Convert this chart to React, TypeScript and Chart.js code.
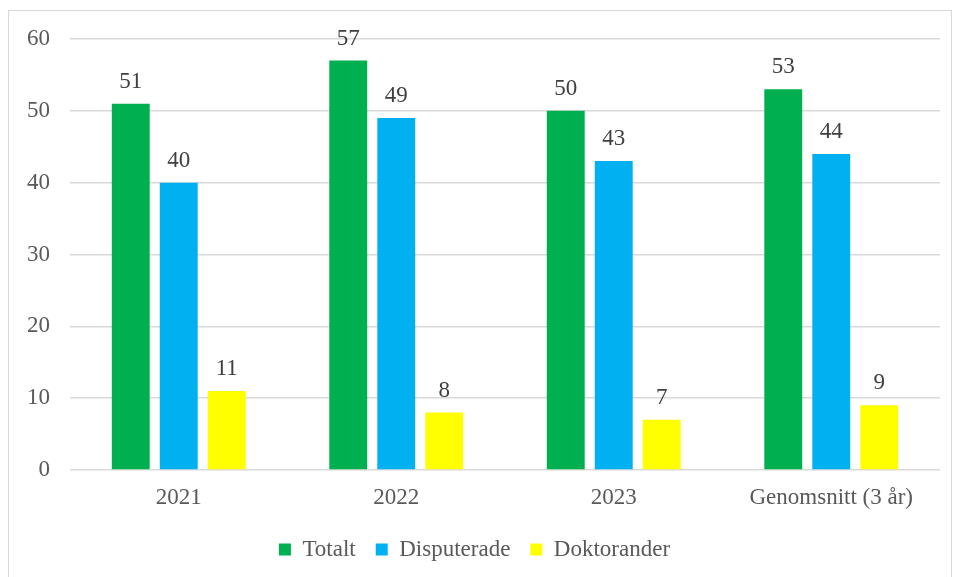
import React, { useEffect, useRef } from "react";
import { Chart, registerables } from "chart.js";

Chart.register(...registerables);

const categories = ["2021", "2022", "2023", "Genomsnitt (3 år)"];
const totalt = [51, 57, 50, 53];
const disputerade = [40, 49, 43, 44];
const doktorander = [11, 8, 7, 9];
const yTicks = [0, 10, 20, 30, 40, 50, 60];

const FONT = "'Liberation Serif', 'Times New Roman', serif";

const valueLabels = {
  id: "valueLabels",
  afterDatasetsDraw(chart: any) {
    const ctx = chart.ctx;
    ctx.save();
    ctx.font = `23px ${FONT}`;
    ctx.fillStyle = "#404040";
    ctx.textAlign = "center";
    ctx.textBaseline = "alphabetic";
    chart.data.datasets.forEach((ds: any, i: number) => {
      const meta = chart.getDatasetMeta(i);
      meta.data.forEach((bar: any, j: number) => {
        ctx.fillText(String(ds.data[j]), bar.x, bar.y - 16);
      });
    });
    ctx.restore();
  },
};

export default function App() {
  const ref = useRef<HTMLCanvasElement>(null);
  useEffect(() => {
    if (!ref.current) return;
    const chart = new Chart(ref.current, {
      type: "bar",
      data: {
        labels: categories,
        datasets: [
          { label: "Totalt", data: totalt, backgroundColor: "#00B050" },
          { label: "Disputerade", data: disputerade, backgroundColor: "#00B0F0" },
          { label: "Doktorander", data: doktorander, backgroundColor: "#FFFF00" },
        ],
      },
      options: {
        responsive: false,
        animation: false,
        devicePixelRatio: 1,
        layout: { padding: { left: 0, right: 11, top: 28, bottom: 10 } },
        datasets: {
          bar: { categoryPercentage: 0.662, barPercentage: 0.79 },
        },
        plugins: {
          tooltip: { enabled: false },
          legend: {
            position: "bottom",
            labels: {
              font: { family: FONT, size: 23 },
              color: "#595959",
              boxWidth: 12,
              boxHeight: 12,
              padding: 20,
            },
          },
        },
        scales: {
          x: {
            grid: { display: false },
            border: { display: false },
            ticks: {
              font: { family: FONT, size: 23 },
              color: "#595959",
              padding: 6,
              maxRotation: 0,
            },
            afterFit(scale: any) {
              scale.height = 48;
            },
          },
          y: {
            min: 0,
            max: 60,
            afterBuildTicks(scale: any) {
              scale.ticks = yTicks.map((v) => ({ value: v }));
            },
            grid: { color: "#d9d9d9", lineWidth: 1.5, drawTicks: false },
            border: { display: false },
            ticks: {
              font: { family: FONT, size: 23 },
              color: "#595959",
              padding: 20,
            },
            afterFit(scale: any) {
              scale.width = 61;
              scale.paddingTop = 0;
              scale.paddingBottom = 0;
            },
          },
        },
      },
      plugins: [valueLabels],
    });
    return () => chart.destroy();
  }, []);
  return (
    <div
      style={{
        position: "absolute",
        left: 8,
        top: 10,
        width: 942,
        height: 570,
        border: "1px solid #d9d9d9",
        background: "#fff",
      }}
    >
      <canvas ref={ref} width={942} height={570} style={{ display: "block" }} />
    </div>
  );
}
